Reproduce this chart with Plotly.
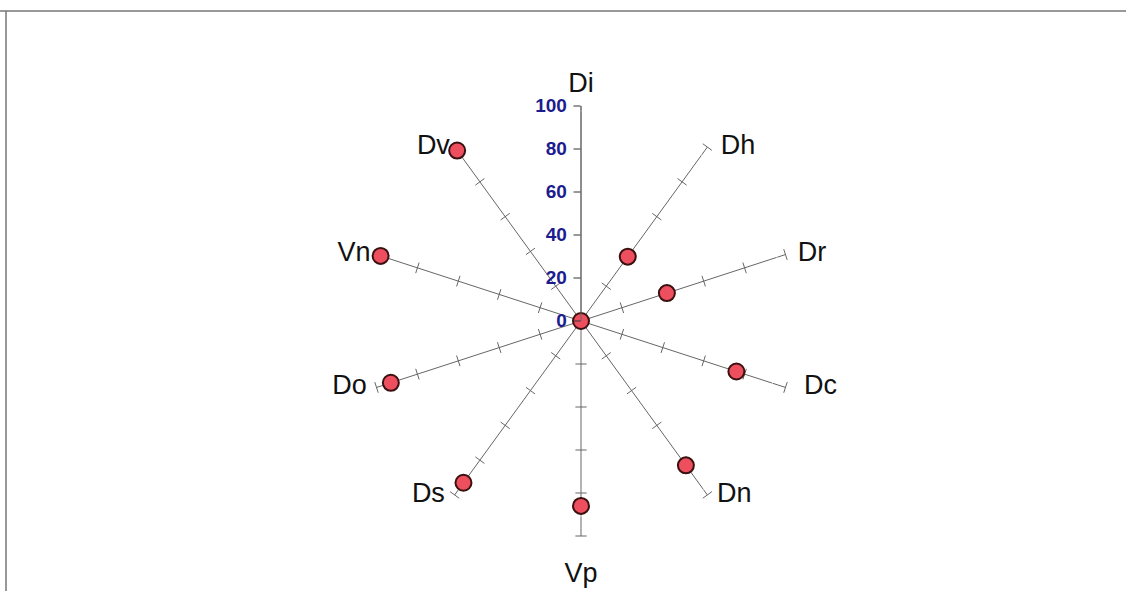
import numpy as np
import plotly.graph_objects as go

# data
axes_names = ['Di', 'Dh', 'Dr', 'Dc', 'Dn', 'Vp', 'Ds', 'Do', 'Vn', 'Dv']
values = [0, 37, 42, 76, 83, 86, 93, 93, 98, 98]
radial_ticks = [0, 20, 40, 60, 80, 100]
spoke_ticks = [20, 40, 60, 80, 100]

# style
marker_red = '#ee4f5f'
spoke_grey = '#666666'
tick_blue = '#1c1c8f'
label_pos = ['top center', 'middle right', 'middle right', 'middle right', 'middle right',
             'bottom center', 'middle left', 'middle left', 'middle left', 'middle left']
label_gap = [10, 20, 18, 28, 14, 40, 14, 14, 8, 6]

W, H = 1126, 591
cx, cy, rad = 581, 321, 215

fig = go.Figure()

# little cross ticks on every spoke except Di (Di carries the radial axis)
tick_theta = []
tick_r = []
tick_angle = []
for k, name in enumerate(axes_names):
    if k == 0:
        continue
    for t in spoke_ticks:
        tick_theta.append(name)
        tick_r.append(t)
        tick_angle.append(k * 36)

fig.add_trace(go.Scatterpolar(
    r=tick_r, theta=tick_theta, mode='markers',
    marker=dict(symbol='line-ew-open', size=8, angle=tick_angle,
                color=spoke_grey, line=dict(color=spoke_grey, width=1)),
    hoverinfo='skip', showlegend=False,
))

# axis names at the outer end of each spoke (invisible markers set the gap)
fig.add_trace(go.Scatterpolar(
    r=[radial_ticks[-1]] * len(axes_names), theta=axes_names,
    mode='markers+text', text=axes_names, textposition=label_pos,
    textfont=dict(size=27, color='#111111', family='Arial, Liberation Sans, sans-serif'),
    marker=dict(size=label_gap, color='rgba(0,0,0,0)'),
    cliponaxis=False, hoverinfo='skip', showlegend=False,
))

fig.add_trace(go.Scatterpolar(
    r=values, theta=axes_names, mode='markers',
    marker=dict(size=16, color=marker_red,
                line=dict(color='#3a1010', width=2)),
    showlegend=False,
))

fig.update_layout(
    width=W, height=H,
    margin=dict(l=0, r=0, t=0, b=0),
    paper_bgcolor='white',
    plot_bgcolor='white',
    font=dict(family='Arial, Liberation Sans, sans-serif', color='black'),
    polar=dict(
        bgcolor='rgba(0,0,0,0)',
        domain=dict(x=[(cx - rad) / W, (cx + rad) / W],
                    y=[(H - cy - rad) / H, (H - cy + rad) / H]),
        angularaxis=dict(
            categoryorder='array', categoryarray=axes_names,
            rotation=90, direction='clockwise',
            showline=False, ticks='', showticklabels=False,
            showgrid=True, gridcolor=spoke_grey, gridwidth=1,
        ),
        radialaxis=dict(
            range=[0, 100], angle=90, side='counterclockwise',
            tickvals=radial_ticks, ticks='outside', ticklen=7,
            tickcolor='#333333', showgrid=False,
            showline=True, linecolor=spoke_grey, linewidth=1,
            tickfont=dict(size=19, color=tick_blue, weight='bold',
                          family='Arial, Liberation Sans, sans-serif'),
            tickangle=90,
        ),
    ),
    shapes=[
        dict(type='line', xref='paper', yref='paper', x0=0, x1=1,
             y0=1 - 11 / H, y1=1 - 11 / H, line=dict(color='#777777', width=1.5)),
        dict(type='line', xref='paper', yref='paper', x0=6 / W, x1=6 / W,
             y0=0, y1=1 - 11 / H, line=dict(color='#777777', width=1.5)),
    ],
)

fig.write_html("out.html", config={'displayModeBar': False},
               post_script="document.body.style.margin='0';")
